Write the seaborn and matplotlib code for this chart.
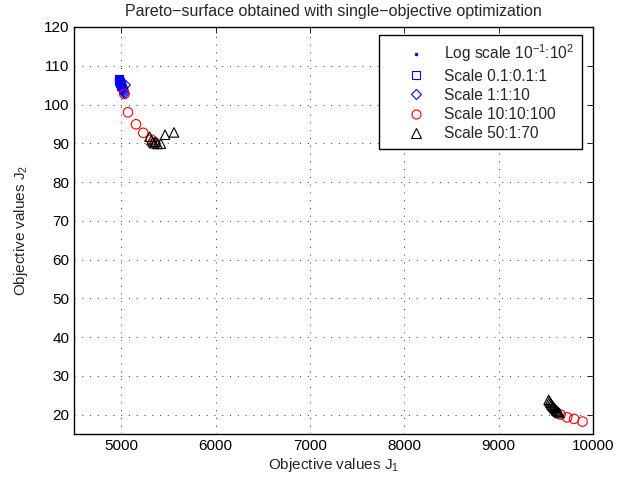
import numpy as np
import pandas as pd
import matplotlib
matplotlib.use("Agg")
import matplotlib.pyplot as plt
import seaborn as sns
from matplotlib.lines import Line2D

# ---- data ----
log_j1 = [4985, 4990, 4995, 5000, 5005, 5010, 5015]
log_j2 = [106.0, 105.6, 105.2, 104.8, 104.3, 103.8, 103.3]

sq_j1 = [4975, 4978, 4981, 4984, 4987, 4990, 4993, 4996, 4999, 5002]
sq_j2 = [106.5, 106.3, 106.1, 105.9, 105.7, 105.5, 105.3, 105.1, 104.9, 104.7]

dia_j1 = [4995, 5000, 5005, 5010, 5015, 5020, 5025, 5030, 5035, 5045]
dia_j2 = [105.5, 105.2, 104.9, 104.6, 104.3, 104.0, 103.6, 103.2, 102.8, 105.0]

circ_j1 = [5033, 5072, 5157, 5234, 5316, 5360, 9656, 9726, 9800, 9889]
circ_j2 = [102.7, 98.0, 94.9, 92.7, 91.0, 90.2, 20.0, 19.3, 18.9, 18.2]

tri_j1 = [5300, 5320, 5335, 5350, 5365, 5385, 5420, 5465, 5560,
          9530, 9540, 9550, 9560, 9570, 9580, 9590, 9600, 9610, 9620, 9630, 9645]
tri_j2 = [91.7, 90.8, 90.3, 90.0, 90.4, 89.8, 89.9, 92.2, 92.8,
          23.8, 23.4, 23.0, 22.6, 22.3, 22.0, 21.7, 21.4, 21.1, 20.9, 20.7, 20.4]

labels = ["Log scale 10$^{-1}$:10$^{2}$", "Scale 0.1:0.1:1", "Scale 1:1:10",
          "Scale 10:10:100", "Scale 50:1:70"]

x_ticks = [5000, 6000, 7000, 8000, 9000, 10000]
y_ticks = [20, 30, 40, 50, 60, 70, 80, 90, 100, 110, 120]

# ---- style ----
sns.set_style("white")
plt.rcParams["font.family"] = ["Liberation Sans", "DejaVu Sans"]
plt.rcParams["mathtext.fontset"] = "custom"
plt.rcParams["mathtext.rm"] = "Liberation Sans"
plt.rcParams["mathtext.it"] = "Liberation Sans"
plt.rcParams["mathtext.default"] = "regular"

fig = plt.figure(figsize=(6.31, 4.83), dpi=100)
ax = fig.add_axes([74 / 631, 1 - 434 / 483, (593 - 74) / 631, (434 - 27) / 483])

ms = 6.5  # marker size in points
s_area = ms ** 2

sns.scatterplot(x=log_j1, y=log_j2, ax=ax, marker="o", s=4, color="blue",
                edgecolor="blue", linewidth=0.5, legend=False, zorder=3)
sns.scatterplot(x=sq_j1, y=sq_j2, ax=ax, marker="s", s=s_area * 0.75,
                facecolors="none", edgecolors="blue", linewidth=0.8, legend=False, zorder=3)
sns.scatterplot(x=dia_j1, y=dia_j2, ax=ax, marker="D", s=s_area * 0.6,
                facecolors="none", edgecolors="blue", linewidth=0.8, legend=False, zorder=3)
sns.scatterplot(x=circ_j1, y=circ_j2, ax=ax, marker="o", s=s_area * 1.1,
                facecolors="none", edgecolors="red", linewidth=0.8, legend=False, zorder=3)
sns.scatterplot(x=tri_j1, y=tri_j2, ax=ax, marker="^", s=s_area * 1.1,
                facecolors="none", edgecolors="black", linewidth=0.8, legend=False, zorder=3)

ax.set_xlim(4500, 10000)
ax.set_ylim(15, 120)
ax.set_xticks(x_ticks)
ax.set_yticks(y_ticks)
ax.tick_params(direction="in", top=True, right=True, length=4, width=0.6,
               labelsize=11, colors="black")
ax.grid(True, linestyle=(0, (1, 7)), color="#333333", linewidth=0.7)
for sp in ax.spines.values():
    sp.set_visible(True)
    sp.set_color("black")
    sp.set_linewidth(1.0)

ax.set_xlabel("Objective values J$_1$", fontsize=11, labelpad=2)
ax.set_ylabel("Objective values J$_2$", fontsize=11, labelpad=10)
ax.set_title("Pareto\u2212surface obtained with single\u2212objective optimization",
             fontsize=11.5, pad=8)

handles = [
    Line2D([], [], linestyle="none", marker=".", markersize=3, color="blue"),
    Line2D([], [], linestyle="none", marker="s", markersize=6, color="blue",
           markerfacecolor="none", markeredgecolor="blue", markeredgewidth=0.8),
    Line2D([], [], linestyle="none", marker="D", markersize=5.5, color="blue",
           markerfacecolor="none", markeredgecolor="blue", markeredgewidth=0.8),
    Line2D([], [], linestyle="none", marker="o", markersize=6.5, color="red",
           markerfacecolor="none", markeredgecolor="red", markeredgewidth=0.8),
    Line2D([], [], linestyle="none", marker="^", markersize=6.5, color="black",
           markerfacecolor="none", markeredgecolor="black", markeredgewidth=0.8),
]
leg = ax.legend(handles, labels, loc="upper right",
                bbox_to_anchor=((582 - 74) / 519, (434 - 35) / 407),
                borderaxespad=0, fontsize=11.2, frameon=True, fancybox=False,
                framealpha=1, edgecolor="black", handlelength=3.8,
                handletextpad=-0.1, labelspacing=0.27, borderpad=0.5)
leg.get_frame().set_linewidth(1.0)

fig.savefig("out.png", dpi=100)
